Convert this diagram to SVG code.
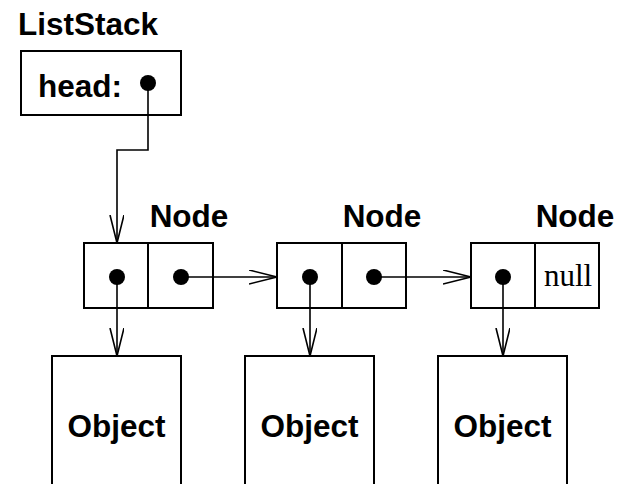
<svg xmlns="http://www.w3.org/2000/svg" width="618" height="484" viewBox="0 0 618 484">
<style>
.box{fill:#fff;stroke:#000;stroke-width:2}
.lbl{font-family:"Liberation Sans",Arial,sans-serif;font-weight:bold;font-size:31.5px;fill:#000}
.ser{font-family:"Liberation Serif","Times New Roman",serif;font-size:31px;fill:#000}
.con{fill:none;stroke:#000;stroke-width:1.6}
.dot{fill:#000}
</style>
<defs>
<marker id="arr" markerWidth="30" markerHeight="16" refX="28" refY="7" orient="auto" markerUnits="userSpaceOnUse">
<path d="M0,0 L28,7 L0,14" fill="none" stroke="#000" stroke-width="1.6"/>
</marker>
</defs>
<g id="liststack">
<text class="lbl" x="18" y="35">ListStack</text>
<rect class="box" x="21" y="51" width="160" height="64"/>
<text class="lbl" x="38" y="97">head:</text>
<circle class="dot" cx="148" cy="83" r="8"/>
</g>
<g id="node1">
<text class="lbl" x="189" y="227" text-anchor="middle">Node</text>
<rect class="box" x="84" y="243" width="129" height="65"/>
<line x1="148" y1="243" x2="148" y2="308" stroke="#000" stroke-width="2"/>
<circle class="dot" cx="117" cy="277" r="8"/>
<circle class="dot" cx="181" cy="277" r="8"/>
</g>
<g id="node2">
<text class="lbl" x="382" y="227" text-anchor="middle">Node</text>
<rect class="box" x="277" y="243" width="129" height="65"/>
<line x1="342" y1="243" x2="342" y2="308" stroke="#000" stroke-width="2"/>
<circle class="dot" cx="310" cy="277" r="8"/>
<circle class="dot" cx="374" cy="277" r="8"/>
</g>
<g id="node3">
<text class="lbl" x="575" y="227" text-anchor="middle">Node</text>
<rect class="box" x="471" y="243" width="128" height="65"/>
<line x1="535" y1="243" x2="535" y2="308" stroke="#000" stroke-width="2"/>
<circle class="dot" cx="503" cy="277" r="8"/>
<text class="ser" x="568" y="286" text-anchor="middle">null</text>
</g>
<g id="object1">
<rect class="box" x="52" y="356" width="129" height="140"/>
<text class="lbl" x="116.5" y="437" text-anchor="middle">Object</text>
</g>
<g id="object2">
<rect class="box" x="245" y="356" width="129" height="140"/>
<text class="lbl" x="309.5" y="437" text-anchor="middle">Object</text>
</g>
<g id="object3">
<rect class="box" x="438" y="356" width="129" height="140"/>
<text class="lbl" x="502.5" y="437" text-anchor="middle">Object</text>
</g>
<g id="connectors">
<polyline class="con" points="148,83 148,150 117,150 117,243" marker-end="url(#arr)"/>
<line class="con" x1="181" y1="277" x2="277" y2="277" marker-end="url(#arr)"/>
<line class="con" x1="374" y1="277" x2="471" y2="277" marker-end="url(#arr)"/>
<line class="con" x1="117" y1="277" x2="117" y2="356" marker-end="url(#arr)"/>
<line class="con" x1="310" y1="277" x2="310" y2="356" marker-end="url(#arr)"/>
<line class="con" x1="503" y1="277" x2="503" y2="356" marker-end="url(#arr)"/>
</g>
</svg>
